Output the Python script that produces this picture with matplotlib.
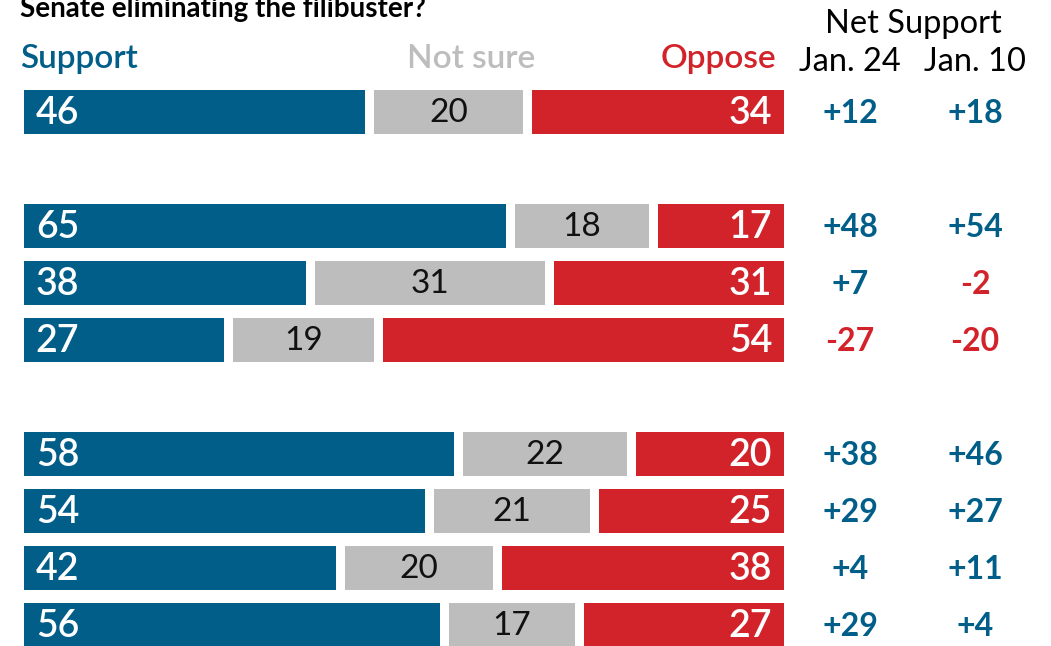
import matplotlib.pyplot as plt

# datos
support = [46, 65, 38, 27, 58, 54, 42, 56]
not_sure = [20, 18, 31, 19, 22, 21, 20, 17]
oppose = [34, 17, 31, 54, 20, 25, 38, 27]
net_jan24 = ["+12", "+48", "+7", "-27", "+38", "+29", "+4", "+29"]
net_jan10 = ["+18", "+54", "-2", "-20", "+46", "+27", "+11", "+4"]
row_slots = [0, 2, 3, 4, 6, 7, 8, 9]

BLUE = '#005e89'
GRAY = '#bdbdbd'
RED = '#d2232a'

plt.rcParams['font.family'] = ['Lato', 'DejaVu Sans']

W, H = 1051, 646
fig = plt.figure(figsize=(W / 100, H / 100), dpi=100)
ax = fig.add_axes([0, 0, 1, 1])

# escala: px por unidad porcentual
s = 7.42
x0 = 24
gap = 9 / s
slot = 57
y0 = 112
ax.set_xlim(-x0 / s, (W - x0) / s)
ax.set_ylim((H - y0) / slot, -y0 / slot)
ax.axis('off')

bh = 44 / slot
for i, yy in enumerate(row_slots):
    sp, ns, op = support[i], not_sure[i], oppose[i]
    ax.barh(yy, sp, left=0, height=bh, color=BLUE)
    ax.barh(yy, ns, left=sp + gap, height=bh, color=GRAY)
    ax.barh(yy, op, left=sp + ns + 2 * gap, height=bh, color=RED)
    ax.text(1.6, yy + 0.02, str(sp), color='white', fontsize=27, va='center',
            ha='left', fontweight='semibold')
    ax.text(sp + gap + ns / 2, yy + 0.02, str(ns), color='#111111', fontsize=24,
            va='center', ha='center')
    ax.text(100 + 2 * gap - 1.6, yy + 0.02, str(op), color='white', fontsize=27,
            va='center', ha='right', fontweight='semibold')
    for xp, val in [(850, net_jan24[i]), (975, net_jan10[i])]:
        c = RED if val.startswith('-') else BLUE
        ax.text((xp - x0) / s, yy + 0.02, val, color=c, fontsize=23, va='center',
                ha='center', fontweight='bold')

# encabezados
fig.text(20 / W, 1 - 17 / H, 'Senate eliminating the filibuster?', fontsize=20,
         fontweight='bold', va='baseline', ha='left', color='black')
fig.text(20 / W, 1 - 59 / H, 'Support', fontsize=24, color=BLUE, va='center',
         ha='left', fontweight='semibold')
fig.text(471 / W, 1 - 59 / H, 'Not sure', fontsize=24, color=GRAY, va='center',
         ha='center', fontweight='semibold')
fig.text(776 / W, 1 - 59 / H, 'Oppose', fontsize=24, color=RED, va='center',
         ha='right', fontweight='semibold')
fig.text(913 / W, 1 - 24 / H, 'Net Support', fontsize=23.5, color='black',
         va='center', ha='center')
fig.text(850 / W, 1 - 62 / H, 'Jan. 24', fontsize=23.5, color='black',
         va='center', ha='center')
fig.text(975 / W, 1 - 62 / H, 'Jan. 10', fontsize=23.5, color='black',
         va='center', ha='center')

plt.savefig('out.png', dpi=100)
